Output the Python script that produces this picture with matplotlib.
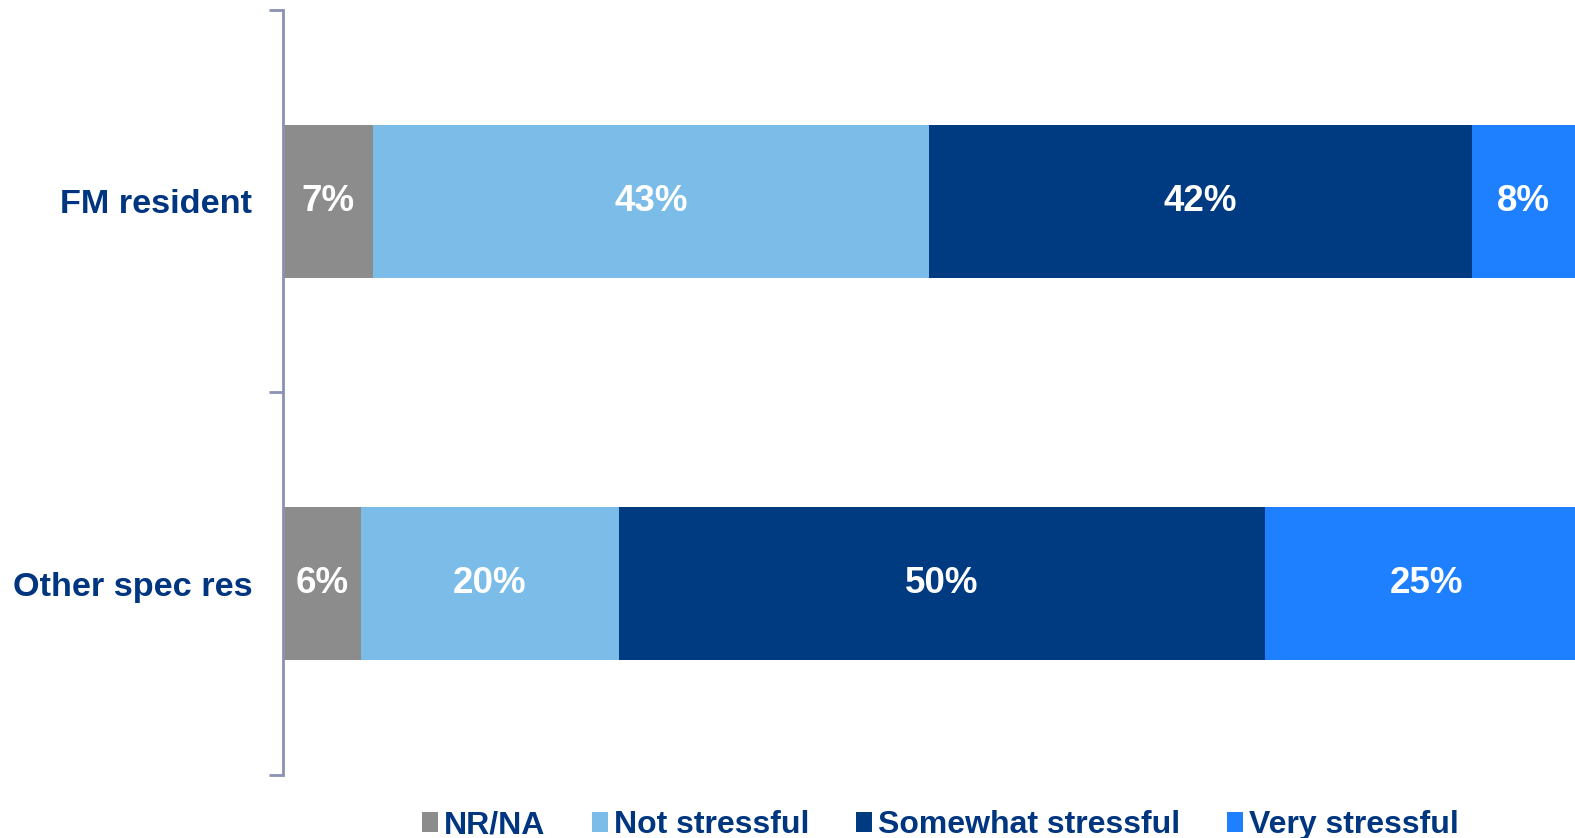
import matplotlib.pyplot as plt
from matplotlib.patches import Patch

plt.rcParams['font.family'] = ['Liberation Sans', 'DejaVu Sans']

# data
groups = ['Other spec res', 'FM resident']
series = ['NR/NA', 'Not stressful', 'Somewhat stressful', 'Very stressful']
nr_na = [6, 7]
not_stressful = [20, 43]
somewhat = [50, 42]
very = [25, 8]

colors = ['#8c8c8c', '#7bbde8', '#003a80', '#1f80ff']
navy = '#003580'

fig = plt.figure(figsize=(15.75, 8.38), dpi=100)
ax = fig.add_axes([0.1797, 0.0752, 0.8203, 0.9129])

ypos = range(len(groups))
left = [0, 0]
for vals, col in zip([nr_na, not_stressful, somewhat, very], colors):
    ax.barh(ypos, vals, left=left, height=0.4, color=col, edgecolor='none')
    for y, v, l in zip(ypos, vals, left):
        ax.text(l + v / 2, y, f'{v}%', ha='center', va='center',
                color='white', fontsize=26.5, fontweight='bold')
    left = [a + b for a, b in zip(left, vals)]

ax.set_xlim(0, 100)
ax.set_ylim(-0.5, 1.5)

# category labels, ticks sit on the group boundaries
ax.set_yticks(list(ypos))
ax.set_yticklabels(groups, fontsize=24.7, fontweight='bold', color=navy)
ax.tick_params(axis='y', which='major', length=0, pad=22)
ax.set_yticks([-0.5, 0.5, 1.5], minor=True)
ax.tick_params(axis='y', which='minor', length=10, width=2, color='#8a91b4')
ax.set_xticks([])

for s in ['top', 'right', 'bottom']:
    ax.spines[s].set_visible(False)
ax.spines['left'].set_color('#8a91b4')
ax.spines['left'].set_linewidth(2)

handles = [Patch(facecolor=c, edgecolor='none') for c in colors]
leg = fig.legend(handles, series, loc='center', bbox_to_anchor=(0.597, 0.015),
                 ncol=4, frameon=False, handlelength=0.5,
                 handleheight=0.6, handletextpad=0.2, columnspacing=1.45,
                 prop={'weight': 'bold', 'size': 23})
for t in leg.get_texts():
    t.set_color(navy)

fig.savefig('out.png', dpi=100)
